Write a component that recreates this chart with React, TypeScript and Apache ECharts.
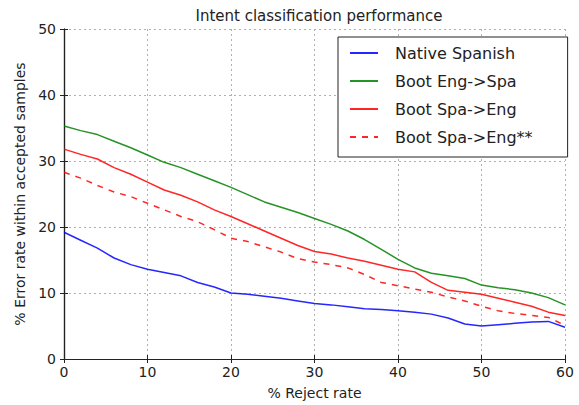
import React, { useEffect, useRef } from "react";
import * as echarts from "echarts";

const xs = [0, 2, 4, 6, 8, 10, 12, 14, 16, 18, 20, 22, 24, 26, 28, 30, 32, 34, 36, 38, 40, 42, 44, 46, 48, 50, 52, 54, 56, 58, 60];
const nativeSpanish = [19.2, 18.0, 16.8, 15.3, 14.3, 13.6, 13.1, 12.6, 11.6, 10.9, 10.0, 9.8, 9.5, 9.2, 8.8, 8.4, 8.2, 7.9, 7.6, 7.5, 7.3, 7.1, 6.8, 6.2, 5.3, 5.0, 5.2, 5.4, 5.6, 5.7, 4.8];
const bootEngSpa = [35.3, 34.6, 34.0, 33.0, 32.0, 30.9, 29.8, 29.0, 28.0, 27.0, 26.0, 24.9, 23.8, 23.0, 22.2, 21.3, 20.4, 19.4, 18.1, 16.6, 15.1, 13.8, 13.0, 12.6, 12.2, 11.2, 10.8, 10.5, 10.0, 9.3, 8.2];
const bootSpaEng = [31.8, 31.0, 30.3, 29.0, 28.0, 26.8, 25.6, 24.8, 23.8, 22.6, 21.6, 20.5, 19.4, 18.3, 17.2, 16.3, 15.9, 15.3, 14.8, 14.2, 13.6, 13.2, 11.6, 10.4, 10.1, 9.8, 9.2, 8.6, 8.0, 7.1, 6.6];
const bootSpaEng2 = [28.3, 27.4, 26.3, 25.3, 24.6, 23.6, 22.6, 21.6, 20.8, 19.6, 18.3, 17.8, 17.0, 16.2, 15.2, 14.7, 14.3, 13.8, 12.8, 11.6, 11.1, 10.6, 10.1, 9.4, 8.8, 8.0, 7.3, 6.9, 6.6, 6.3, 5.1];
const seriesNames = ["Native Spanish", "Boot Eng->Spa", "Boot Spa->Eng", "Boot Spa->Eng**"];

const FONT = "DejaVu Sans";

export default function App() {
  const ref = useRef<HTMLDivElement>(null);
  useEffect(() => {
    document.body.style.margin = "0";
    const chart = echarts.init(ref.current!, null, { renderer: "svg" });
    const pair = (ys: number[]) => xs.map((x, i) => [x, ys[i]]);
    const gridLine = { show: true, lineStyle: { color: "#b0b0b0", type: [2, 3] as any, width: 1 } };
    const tickIn = { show: true, inside: true, length: 4, lineStyle: { color: "#222" } };
    const axisLine = { show: true, lineStyle: { color: "#222", width: 1.2 } };
    const lbl = { color: "#222", fontFamily: FONT, fontSize: 14 };
    const mk = (name: string, ys: number[], color: string, dashed = false) => ({
      type: "line",
      name,
      data: pair(ys),
      symbol: "none",
      lineStyle: { color, width: 1.5, opacity: 0.85, type: dashed ? [6, 6] : "solid" },
      itemStyle: { color },
      xAxisIndex: 0,
      yAxisIndex: 0,
    });
    chart.setOption({
      animation: false,
      backgroundColor: "#fff",
      title: {
        text: "Intent classification performance",
        left: 314,
        top: 3,
        textAlign: "center",
        textStyle: { fontFamily: FONT, fontSize: 15, fontWeight: "normal", color: "#222" },
      },
      grid: { left: 64, right: 14, top: 29, bottom: 43 },
      legend: {
        orient: "vertical",
        left: 338,
        top: 37,
        data: seriesNames,
        backgroundColor: "#fff",
        borderColor: "#222",
        borderWidth: 1,
        borderRadius: 0,
        padding: [8, 35, 12, 11],
        itemWidth: 28,
        itemHeight: 14,
        itemGap: 12,
        itemStyle: { opacity: 0 },
        textStyle: { fontFamily: FONT, fontSize: 16, color: "#222", padding: [0, 0, 0, 12] },
      },
      xAxis: [
        {
          type: "value",
          min: 0,
          max: 60,
          interval: 10,
          name: "% Reject rate",
          nameLocation: "middle",
          nameGap: 27,
          nameTextStyle: { fontFamily: FONT, fontSize: 14, color: "#222" },
          axisLine,
          axisTick: tickIn,
          axisLabel: { ...lbl, margin: 6 },
          splitLine: gridLine,
        },
        {
          type: "value",
          position: "top",
          min: 0,
          max: 60,
          interval: 10,
          axisLine,
          axisTick: tickIn,
          axisLabel: { show: false },
          splitLine: { show: false },
        },
      ],
      yAxis: [
        {
          type: "value",
          min: 0,
          max: 50,
          interval: 10,
          name: "% Error rate within accepted samples",
          nameLocation: "middle",
          nameGap: 34,
          nameTextStyle: { fontFamily: FONT, fontSize: 14, color: "#222" },
          axisLine,
          axisTick: tickIn,
          axisLabel: { ...lbl, margin: 8 },
          splitLine: gridLine,
        },
        {
          type: "value",
          position: "right",
          min: 0,
          max: 50,
          interval: 10,
          axisLine,
          axisTick: tickIn,
          axisLabel: { show: false },
          splitLine: { show: false },
        },
      ],
      series: [
        mk(seriesNames[0], nativeSpanish, "#0000ff"),
        mk(seriesNames[1], bootEngSpa, "#008000"),
        mk(seriesNames[2], bootSpaEng, "#ff0000"),
        mk(seriesNames[3], bootSpaEng2, "#ff0000", true),
      ],
    });
    return () => chart.dispose();
  }, []);
  return <div ref={ref} style={{ width: 579, height: 405 }} />;
}
